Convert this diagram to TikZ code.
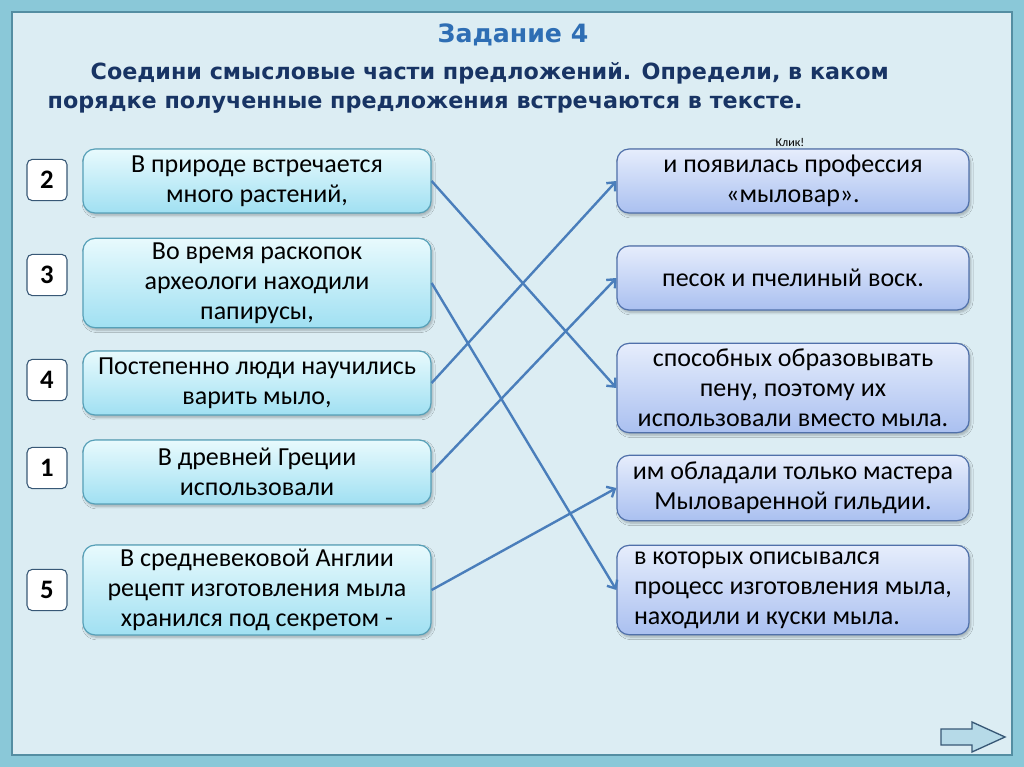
\documentclass[tikz,border=0pt]{standalone}
\usepackage{fontspec}
\setmainfont{Carlito}
\newfontfamily\headfont{DejaVu Sans}
\usepackage{tikz}
\usetikzlibrary{arrows.meta, positioning, shadows.blur}
\definecolor{framerim}{RGB}{138,200,216}
\definecolor{frameline}{RGB}{84,142,162}
\definecolor{panelbg}{RGB}{220,237,243}
\definecolor{titleblue}{RGB}{46,110,180}
\definecolor{headnavy}{RGB}{24,52,100}
\definecolor{ltop}{RGB}{232,250,253}
\definecolor{lbot}{RGB}{160,224,242}
\definecolor{ledge}{RGB}{86,160,184}
\definecolor{rtop}{RGB}{230,237,252}
\definecolor{rbot}{RGB}{170,192,240}
\definecolor{redge}{RGB}{80,112,170}
\definecolor{linkblue}{RGB}{74,126,187}
\definecolor{navfill}{RGB}{182,218,232}
\definecolor{navedge}{RGB}{56,88,118}
\tikzset{
  cardbox/.style={rectangle, rounded corners=9pt, line width=0.9pt,
    align=center, font=\fontsize{19.5}{22.5}\selectfont, inner sep=3pt,
    blur shadow={shadow xshift=1.2pt, shadow yshift=-1.8pt,
      shadow blur steps=6, shadow opacity=28}},
  lbox/.style={cardbox, draw=ledge, top color=ltop, bottom color=lbot,
    minimum width=261pt},
  rbox/.style={cardbox, draw=redge, top color=rtop, bottom color=rbot,
    minimum width=264pt},
  numbox/.style={rectangle, rounded corners=4pt, draw=navedge, fill=white,
    line width=0.8pt, minimum width=30pt, minimum height=31pt,
    font=\fontsize{20}{22}\selectfont\bfseries},
  headline/.style={anchor=west, text=headnavy,
    font=\headfont\fontsize{16.7}{19}\selectfont\bfseries},
  link/.style={-{Straight Barb[length=5pt, width=9pt]}, line width=1.8pt,
    color=linkblue},
}

\begin{document}
\begin{tikzpicture}[x=0.75pt, y=0.75pt]
  \useasboundingbox (0,0) rectangle (1024,-767);
  % frame
  \fill[framerim] (0,0) rectangle (1024,-767);
  \draw[frameline, line width=2pt, fill=panelbg] (12,-12) rectangle (1012,-755);

  % heading
  \node[text=titleblue, font=\headfont\fontsize{18.9}{21}\selectfont\bfseries]
    (title) at (513,-35) {Задание 4};
  \node[headline] (hd1) at (86,-73)
    {Соедини смысловые части предложений. Определи, в каком};
  \node[headline] (hd2) at (43,-105)
    {порядке полученные предложения встречаются в тексте.};
  \node[font=\fontsize{9}{10}\selectfont] (klik) at (790,-142) {Клик!};

  % left parts
  \node[lbox, minimum height=48pt] (l1) at (257,-181)
    {В природе встречается\\много растений,};
  \node[lbox, minimum height=67pt] (l2) at (257,-283)
    {Во время раскопок\\археологи находили\\папирусы,};
  \node[lbox, minimum height=48pt] (l3) at (257,-383)
    {Постепенно люди научились\\варить мыло,};
  \node[lbox, minimum height=48pt] (l4) at (257,-472)
    {В древней Греции\\использовали};
  \node[lbox, minimum height=67pt] (l5) at (257,-590)
    {В средневековой Англии\\рецепт изготовления мыла\\хранился под секретом -};

  % order numbers
  \node[numbox] (n1) at (47,-180) {2};
  \node[numbox] (n2) at (47,-275) {3};
  \node[numbox] (n3) at (47,-380) {4};
  \node[numbox] (n4) at (47,-468) {1};
  \node[numbox] (n5) at (47,-590) {5};

  % right parts
  \node[rbox, minimum height=48pt] (r1) at (793,-181)
    {и появилась профессия\\«мыловар».};
  \node[rbox, minimum height=48pt] (r2) at (793,-278)
    {песок и пчелиный воск.};
  \node[rbox, minimum height=67pt] (r3) at (793,-388)
    {способных образовывать\\пену, поэтому их\\использовали вместо мыла.};
  \node[rbox, minimum height=49pt] (r4) at (793,-488)
    {им обладали только мастера\\Мыловаренной гильдии.};
  \node[rbox, minimum height=67pt, align=left] (r5) at (793,-590)
    {в которых описывался\\процесс изготовления мыла,\\находили и куски мыла.};

  % answers
  \draw[link] (l1.east) -- (r3.west);
  \draw[link] (l2.east) -- (r5.west);
  \draw[link] (l3.east) -- (r1.west);
  \draw[link] (l4.east) -- (r2.west);
  \draw[link] (l5.east) -- (r4.west);

  % next slide button
  \draw[navedge, fill=navfill, line width=1pt]
    (941,-729) -- (972,-729) -- (972,-722) -- (1005,-737) -- (972,-752)
    -- (972,-745) -- (941,-745) -- cycle;
\end{tikzpicture}
\end{document}
